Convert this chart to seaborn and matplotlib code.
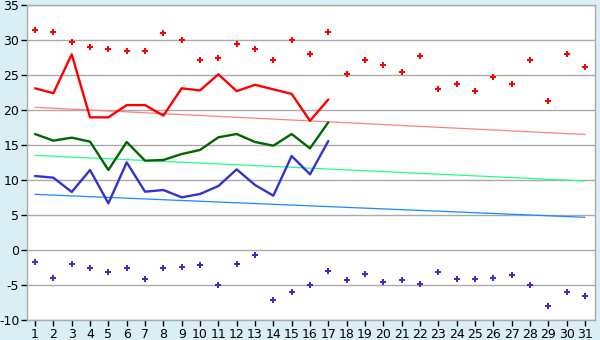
import matplotlib
matplotlib.use("Agg")
import matplotlib.pyplot as plt
import seaborn as sns
import pandas as pd
import numpy as np

days = list(range(1, 32))
days_obs = list(range(1, 18))

# record highs / lows (markers)
record_max = [31.4, 31.1, 29.7, 28.95, 28.7, 28.5, 28.4, 31.0, 29.95, 27.2,
              27.5, 29.4, 28.7, 27.1, 29.95, 27.95, 31.1, 25.2, 27.2, 26.5,
              25.5, 27.7, 22.95, 23.7, 22.7, 24.7, 23.7, 27.2, 21.25, 27.95, 26.1]
record_min = [-1.76, -4.05, -2.05, -2.6, -3.2, -2.6, -4.2, -2.6, -2.47, -2.2,
              -5.05, -2.05, -0.76, -7.2, -6.05, -5.05, -3.05, -4.33, -3.47, -4.5,
              -4.33, -4.9, -3.2, -4.2, -4.2, -4.05, -3.6, -5.05, -8.05, -6.05, -6.6]

# observed values (lines)
obs_max = [23.1, 22.4, 27.95, 18.95, 18.95, 20.7, 20.7, 19.2, 23.1, 22.8,
           25.1, 22.7, 23.6, 22.95, 22.3, 18.45, 21.5]
obs_mean = [16.57, 15.62, 16.05, 15.48, 11.43, 15.43, 12.76, 12.86, 13.71, 14.29,
            16.1, 16.57, 15.43, 14.9, 16.57, 14.52, 18.24]
obs_min = [10.57, 10.33, 8.29, 11.43, 6.67, 12.52, 8.33, 8.57, 7.52, 8.0,
           9.14, 11.52, 9.29, 7.76, 13.43, 10.81, 15.57]

# normal (climatological) trend lines, start and end of month
trend_days = [1, 31]
normal_max = [20.38, 16.5]
normal_mean = [13.52, 9.86]
normal_min = [7.95, 4.67]

yticks = list(range(-10, 40, 5))

sns.set_theme(style="white")
plt.rcParams['font.family'] = ['DejaVu Sans']
plt.rcParams['axes.unicode_minus'] = False

fig = plt.figure(figsize=(6.0, 3.4), dpi=100)
fig.patch.set_facecolor("#d9eff5")
ax = fig.add_axes([27/600, 1-320/340, (595-27)/600, (320-5)/340])
ax.set_facecolor("white")

for yv in yticks:
    ax.axhline(yv, color="#aaaaaa", lw=1.0, zorder=0)

df_trend = pd.DataFrame({"day": trend_days, "max": normal_max,
                         "mean": normal_mean, "min": normal_min})
sns.lineplot(data=df_trend, x="day", y="max", color="#ff8080", lw=0.9, ax=ax)
sns.lineplot(data=df_trend, x="day", y="mean", color="#22ff88", lw=0.9, ax=ax)
sns.lineplot(data=df_trend, x="day", y="min", color="#1a88ff", lw=0.9, ax=ax)

df_obs = pd.DataFrame({"day": days_obs, "max": obs_max,
                       "mean": obs_mean, "min": obs_min})
sns.lineplot(data=df_obs, x="day", y="max", color="#ff0000", lw=1.7, ax=ax)
sns.lineplot(data=df_obs, x="day", y="mean", color="#006600", lw=1.7, ax=ax)
sns.lineplot(data=df_obs, x="day", y="min", color="#3333cc", lw=1.7, ax=ax)

df_rec = pd.DataFrame({"day": days, "rmax": record_max, "rmin": record_min})
sns.scatterplot(data=df_rec, x="day", y="rmax", color="#ff0000", marker="P",
                s=24, linewidth=0, ax=ax, zorder=5)
sns.scatterplot(data=df_rec, x="day", y="rmin", color="#3333cc", marker="P",
                s=24, linewidth=0, ax=ax, zorder=5)

ax.set_xlim(0.56, 31.55)
ax.set_ylim(-10, 35)
ax.set_xticks(days)
ax.set_yticks(yticks)
ax.set_xlabel("")
ax.set_ylabel("")
ax.tick_params(axis="both", labelsize=9, colors="black", length=4,
               width=1, direction="out", pad=2)
ax.tick_params(axis="x", bottom=True, color="black")
ax.tick_params(axis="y", left=True, color="black", pad=1.5)
for side in ["left", "bottom", "right", "top"]:
    ax.spines[side].set_visible(True)
    ax.spines[side].set_color("#aaaaaa")
    ax.spines[side].set_linewidth(1.0)
ax.grid(False)

fig.savefig("out.png", dpi=100, facecolor=fig.get_facecolor())
